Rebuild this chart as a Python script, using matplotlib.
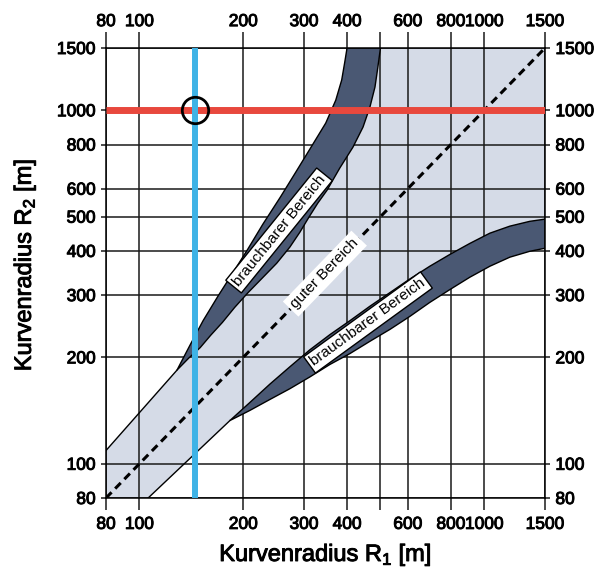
import numpy as np
import matplotlib
matplotlib.use("Agg")
import matplotlib.pyplot as plt
import matplotlib.patheffects as pe

plt.rcParams['font.family'] = ['Liberation Sans', 'DejaVu Sans']
plt.rcParams['mathtext.default'] = 'regular'

ticks = [80, 100, 200, 300, 400, 500, 600, 800, 1000, 1500]
x_tick_labels = ['80', '100', '200', '300', '400', '', '600', '800', '1000', '1500']
y_tick_labels = ['80', '100', '200', '300', '400', '500', '600', '800', '1000', '1500']

# lower-left edges of the good zone
left_edge_r1 = [80, 128.5]
left_edge_r2 = [109, 184]
bottom_edge_r1 = [106, 183]
bottom_edge_r2 = [80, 132.5]

# upper band (R2 > R1), from tip to top
up_inner_r1 = [128.5, 139, 150, 161, 174, 189, 206, 227, 250, 273, 292, 310, 329, 350,
               381, 416, 445, 466, 482, 491, 500]
up_inner_r2 = [184, 199, 213, 231, 251, 277, 304, 335, 369, 410, 452, 498, 546, 594,
               686, 786, 896, 1021, 1163, 1317, 1500]
up_outer_r1 = [128.5, 140, 153, 169, 187, 206, 228, 256, 284, 316, 347, 371, 386, 394, 400]
up_outer_r2 = [184, 216, 254, 298, 348, 404, 476, 567, 668, 792, 920, 1068, 1218, 1369, 1500]

# lower band (R2 < R1), from tip to right edge
lo_r1 = [183, 209, 239, 273, 312, 357, 408, 466, 533, 608, 695, 795, 908, 1038, 1186,
         1355, 1500]
lo_inner_r2 = [132.5, 149, 168, 188, 210, 232, 254, 279, 305, 333, 362, 391, 420, 449,
               470, 485, 492]
lo_outer_r2 = [132.5, 141.5, 152, 163, 176, 191, 205, 222, 240, 261, 286, 311, 337, 362,
               384, 399, 407]

diag = [80, 1500]
r1_blue = 145
r2_red = 1000

light = '#d5dbe7'
dark = '#4a5873'
bold = [pe.withStroke(linewidth=0.7, foreground='k')]

fig = plt.figure(figsize=(6.02, 5.74), dpi=100)
ax = fig.add_axes([106/602, 1-498/574, 439/602, 450/574])
ax.set_xscale('log')
ax.set_yscale('log')
ax.set_xlim(80, 1500)
ax.set_ylim(80, 1500)

# good zone
good_x = [80] + bottom_edge_r1 + lo_r1[1:] + [1500] + up_inner_r1[::-1] + left_edge_r1[::-1]
good_y = [80] + bottom_edge_r2 + lo_inner_r2[1:] + [1500] + up_inner_r2[::-1] + left_edge_r2[::-1]
ax.fill(good_x, good_y, color=light, zorder=0.3, lw=0)
ax.plot(left_edge_r1, left_edge_r2, color='k', lw=1, zorder=2)
ax.plot(bottom_edge_r1, bottom_edge_r2, color='k', lw=1, zorder=2)

# usable bands
ax.fill(up_inner_r1 + up_outer_r1[::-1], up_inner_r2 + up_outer_r2[::-1],
        facecolor=dark, edgecolor='k', lw=1, zorder=2)
ax.fill(lo_r1 + lo_r1[::-1], lo_inner_r2 + lo_outer_r2[::-1],
        facecolor=dark, edgecolor='k', lw=1, zorder=2)

ax.plot(diag, diag, color='k', lw=2.2, linestyle=(0, (2.6, 1.7)), zorder=2.5)

ax.plot([80, 1500], [r2_red, r2_red], color='#e8483d', lw=5, solid_capstyle='butt', zorder=3)
ax.plot([r1_blue, r1_blue], [80, 1500], color='#3fb3e6', lw=4.3, solid_capstyle='butt', zorder=3.2)
ax.plot([r1_blue], [r2_red], marker='o', ms=19, mfc='none', mec='k', mew=2, zorder=4)

box = dict(boxstyle='square,pad=0.2', fc='white', ec='k', lw=1)
ax.text(254, 457, 'brauchbarer Bereich', rotation=51, ha='center', va='center',
        fontsize=11, bbox=box, zorder=5, rotation_mode='anchor')
ax.text(460, 251, 'brauchbarer Bereich', rotation=36, ha='center', va='center',
        fontsize=11, bbox=box, zorder=5, rotation_mode='anchor')
ax.text(345, 345, 'guter Bereich', rotation=46, ha='center', va='center',
        fontsize=11, bbox=dict(boxstyle='square,pad=0.25', fc='white', ec='none'),
        zorder=5, rotation_mode='anchor')

ax.set_xticks(ticks)
ax.set_xticklabels(x_tick_labels)
ax.set_yticks(ticks)
ax.set_yticklabels(y_tick_labels)
ax.minorticks_off()
ax.grid(True, color='#1a1a1a', lw=1.1)
for s in ax.spines.values():
    s.set_linewidth(1.1)
ax.tick_params(axis='both', which='both', labelsize=12.5, width=1.1, color='#1a1a1a',
               top=True, right=True, labeltop=True, labelright=True)
ax.tick_params(axis='x', length=8.6, pad=5)
for t in ax.xaxis.get_major_ticks():
    t.tick2line.set_markersize(11.5)
for t in ax.yaxis.get_major_ticks():
    t.tick1line.set_markersize(6.5)
    t.tick2line.set_markersize(9.4)
ax.tick_params(axis='y', pad=4)
for lab in ax.get_xticklabels() + ax.get_yticklabels():
    lab.set_path_effects(bold)
for t in ax.xaxis.get_major_ticks() + ax.yaxis.get_major_ticks():
    t.label2.set_path_effects(bold)

ax.set_xlabel('Kurvenradius R$_1$ [m]', fontsize=17, path_effects=bold)
ax.set_ylabel('Kurvenradius R$_2$ [m]', fontsize=17, path_effects=bold)
ax.xaxis.set_label_coords(0.5, -0.098)
ax.yaxis.set_label_coords(-0.155, 0.518)

fig.savefig('out.png', dpi=100)
